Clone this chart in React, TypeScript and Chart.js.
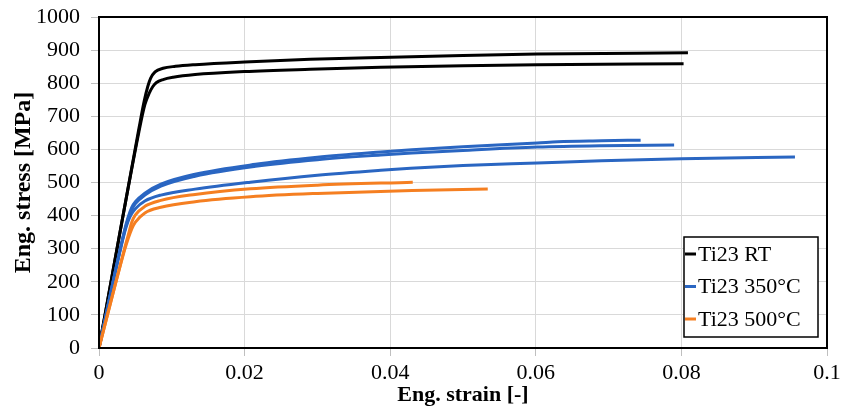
import React, { useEffect, useRef } from "react";
import { Chart, registerables } from "chart.js";

Chart.register(...registerables);

// ---- Data ----
const rt1Strain = [0, 0.0055, 0.0062, 0.0067, 0.0071, 0.0077, 0.0088, 0.0105, 0.0132, 0.02, 0.029, 0.0387, 0.05, 0.0602, 0.0809];
const rt1Stress = [0, 665, 745, 790, 815, 834, 845, 851, 856, 864, 872, 878, 884, 888, 892];

const rt2Strain = [0, 0.0055, 0.0063, 0.0069, 0.0074, 0.0079, 0.0088, 0.0102, 0.0132, 0.02, 0.029, 0.0387, 0.05, 0.0602, 0.0803];
const rt2Stress = [0, 655, 735, 770, 790, 802, 811, 818, 826, 835, 842, 848, 853, 856, 859];

const b1Strain = [0, 0.0035, 0.004, 0.0045, 0.005, 0.0063, 0.0085, 0.0132, 0.0215, 0.03, 0.0387, 0.043, 0.05, 0.0602, 0.063, 0.069, 0.0744];
const b1Stress = [0, 355, 395, 425, 442, 468, 495, 525, 555, 576, 592, 599, 608, 619, 623, 626, 628];

const b2Strain = [0, 0.0035, 0.004, 0.0045, 0.005, 0.0063, 0.0085, 0.0132, 0.0215, 0.03, 0.0387, 0.043, 0.05, 0.0602, 0.069, 0.079];
const b2Stress = [0, 352, 390, 418, 436, 462, 489, 519, 549, 569, 583, 589, 597, 607, 611, 613];

const b3Strain = [0, 0.0035, 0.004, 0.0045, 0.005, 0.0063, 0.0085, 0.0132, 0.0208, 0.03, 0.0387, 0.0428, 0.05, 0.0602, 0.069, 0.08, 0.0956];
const b3Stress = [0, 348, 383, 406, 421, 444, 462, 480, 501, 522, 537, 543, 551, 559, 566, 572, 577];

const o1Strain = [0, 0.0035, 0.004, 0.0045, 0.005, 0.0063, 0.0085, 0.0132, 0.0208, 0.03, 0.0431];
const o1Stress = [0, 300, 340, 380, 402, 428, 446, 464, 481, 492, 501];

const o2Strain = [0, 0.0035, 0.004, 0.0045, 0.005, 0.0063, 0.0085, 0.0132, 0.0208, 0.03, 0.043, 0.0534];
const o2Stress = [0, 295, 330, 360, 380, 408, 425, 442, 457, 467, 476, 480];

const xTicks = [0, 0.02, 0.04, 0.06, 0.08, 0.1];
const legendLabels = ["Ti23 RT", "Ti23 350°C", "Ti23 500°C"];

const BLACK = "#000000";
const BLUE = "#2a66c2";
const ORANGE = "#f57f21";
const legendColors = [BLACK, BLUE, ORANGE];

const toPts = (xs: number[], ys: number[]) => xs.map((x, i) => ({ x, y: ys[i] }));

const SERIF = "'Liberation Serif', 'Times New Roman', serif";

const framePlugin = {
  id: "frame",
  afterDatasetsDraw(chart: any) {
    const { ctx, chartArea: a } = chart;
    ctx.save();
    ctx.strokeStyle = "#000";
    ctx.lineWidth = 2;
    ctx.strokeRect(a.left, a.top, a.right - a.left, a.bottom - a.top);
    ctx.restore();
  },
  afterDraw(chart: any) {
    const { ctx, chartArea: a } = chart;
    const right = a.right - 9;
    const bottom = a.bottom - 11;
    const w = 134;
    const h = 100;
    const left = right - w;
    const top = bottom - h;
    ctx.save();
    ctx.fillStyle = "#fff";
    ctx.fillRect(left, top, w, h);
    ctx.strokeStyle = "#000";
    ctx.lineWidth = 1.5;
    ctx.strokeRect(left, top, w, h);
    ctx.font = `22px ${SERIF}`;
    ctx.textBaseline = "middle";
    ctx.textAlign = "left";
    legendLabels.forEach((lab, i) => {
      const y = top + 17 + i * 32.5;
      ctx.strokeStyle = legendColors[i];
      ctx.lineWidth = 3;
      ctx.beginPath();
      ctx.moveTo(left + 1, y);
      ctx.lineTo(left + 12, y);
      ctx.stroke();
      ctx.fillStyle = "#000";
      ctx.fillText(lab, left + 14, y + 1);
    });
    ctx.restore();
  },
};

export default function App() {
  const ref = useRef<HTMLCanvasElement | null>(null);
  useEffect(() => {
    if (!ref.current) return;
    const mk = (xs: number[], ys: number[], color: string, order: number) => ({
      data: toPts(xs, ys),
      borderColor: color,
      backgroundColor: color,
      borderWidth: 3,
      pointRadius: 0,
      fill: false,
      cubicInterpolationMode: "monotone" as const,
      order,
    });
    const chart = new Chart(ref.current, {
      type: "line",
      data: {
        datasets: [
          mk(o1Strain, o1Stress, ORANGE, 0),
          mk(o2Strain, o2Stress, ORANGE, 0),
          mk(b1Strain, b1Stress, BLUE, 1),
          mk(b2Strain, b2Stress, BLUE, 1),
          mk(b3Strain, b3Stress, BLUE, 1),
          mk(rt1Strain, rt1Stress, BLACK, 2),
          mk(rt2Strain, rt2Stress, BLACK, 2),
        ],
      },
      options: {
        animation: false,
        responsive: false,
        layout: { padding: { top: 17, right: 15, left: 0, bottom: 0 } },
        plugins: { legend: { display: false }, tooltip: { enabled: false } },
        scales: {
          x: {
            type: "linear",
            min: 0,
            max: 0.1,
            afterBuildTicks: (scale: any) => {
              scale.ticks = xTicks.map((v) => ({ value: v }));
            },
            afterFit: (scale: any) => {
              scale.height = 63;
              scale.paddingLeft = 0;
              scale.paddingRight = 0;
            },
            ticks: {
              color: "#000",
              font: { family: SERIF, size: 22 },
              padding: 4,
              maxRotation: 0,
              callback: (v: any) => String(Number(Number(v).toFixed(2))),
            },
            grid: { color: "#d9d9d9", tickColor: "#bfbfbf", tickLength: 8, lineWidth: 1 },
            border: { display: false },
            title: {
              display: true,
              text: "Eng. strain [-]",
              color: "#000",
              font: { family: SERIF, size: 22, weight: "bold" },
              padding: { top: 0, bottom: 2 },
            },
          },
          y: {
            type: "linear",
            min: 0,
            max: 1000,
            afterFit: (scale: any) => {
              scale.width = 99;
              scale.paddingTop = 0;
              scale.paddingBottom = 0;
            },
            ticks: {
              stepSize: 100,
              color: "#000",
              font: { family: SERIF, size: 22 },
              padding: 11,
              callback: (v: any) => String(v),
            },
            grid: { color: "#d9d9d9", tickColor: "#bfbfbf", tickLength: 8, lineWidth: 1 },
            border: { display: false },
            title: {
              display: true,
              text: "Eng. stress [MPa]",
              color: "#000",
              font: { family: SERIF, size: 24, weight: "bold" },
              padding: { top: 9, bottom: 0 },
            },
          },
        },
      },
      plugins: [framePlugin],
    });
    return () => chart.destroy();
  }, []);
  return (
    <div style={{ position: "absolute", left: 0, top: 0, width: 842, height: 411, background: "#fff" }}>
      <canvas ref={ref} width={842} height={411} />
    </div>
  );
}
